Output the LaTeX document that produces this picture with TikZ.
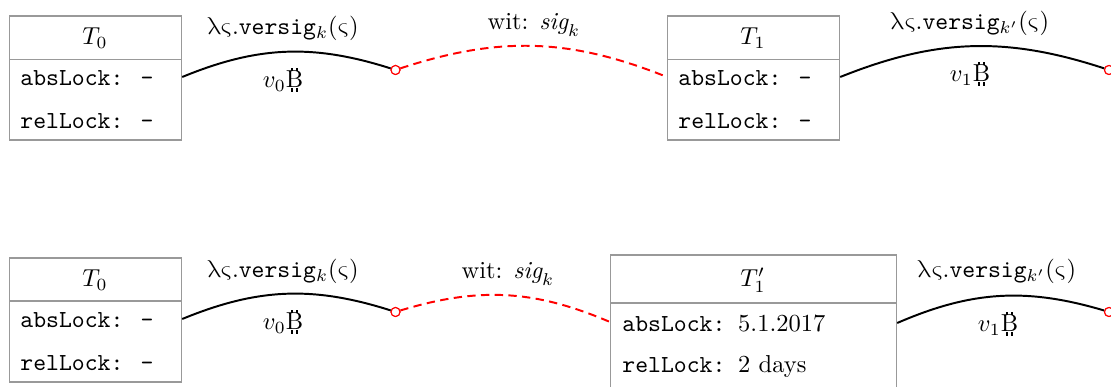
\documentclass[tikz,border=0pt]{standalone}
\usepackage{fontspec}
\newfontfamily\grk{latinmodern-math.otf}
\newcommand\pxu{0.4082pt}
\newcommand\btc{\makebox[0pt][l]{B}\makebox[0.708em][l]{\kern0.22em\rule[-0.15em]{0.06em}{0.15em}\kern-0.06em\rule[0.683em]{0.06em}{0.15em}\kern0.15em\rule[-0.15em]{0.06em}{0.15em}\kern-0.06em\rule[0.683em]{0.06em}{0.15em}}}
\newcommand\lsv{{\grk λς}.\texttt{versig}}
\newcommand\vsig{{\grk ς}}
\tikzset{
  boxframe/.style={draw=black!40, line width=0.5pt, inner sep=0pt, anchor=north west},
  hdrtext/.style={inner sep=0pt, anchor=center},
  rowtext/.style={inner sep=0pt, anchor=base west},
  lbl/.style={inner sep=0pt, anchor=base},
  divider/.style={draw=black!40, line width=0.5pt},
  conn/.style={thick, black},
  witconn/.style={thick, red, dash pattern=on 3.4pt off 2.2pt},
  port/.style={circle, draw=red, fill=white, inner sep=0pt, minimum size=9*\pxu, line width=0.45pt}
}
\begin{document}
\begin{tikzpicture}[x=0.4082pt, y=-0.4082pt]
\useasboundingbox (0,0) rectangle (1111,387);
\clip (0,0) rectangle (1111,387);
% ---------------- top row ----------------
\node[boxframe, minimum width=172*\pxu, minimum height=124*\pxu] (ta0) at (9,15.5) {};
\coordinate (ta0d) at (9,59.5);
\draw[divider] (ta0.west |- ta0d) -- (ta0.east |- ta0d);
\node[hdrtext] (ta0h) at (95,38) {$T_0$};
\node[rowtext] (ta0a) at (20,86) {\texttt{absLock: -}};
\node[rowtext] (ta0r) at (20,129) {\texttt{relLock: -}};

\node[boxframe, minimum width=172*\pxu, minimum height=124*\pxu] (ta1) at (667,15.5) {};
\coordinate (ta1d) at (667,59.5);
\draw[divider] (ta1.west |- ta1d) -- (ta1.east |- ta1d);
\node[hdrtext] (ta1h) at (753,38) {$T_1$};
\node[rowtext] (ta1a) at (678,86) {\texttt{absLock: -}};
\node[rowtext] (ta1r) at (678,129) {\texttt{relLock: -}};

\node[port] (pa0) at (395.5,70) {};
\node[port] (pa1) at (1109,70) {};

\draw[conn] (ta0.east |- 0,77) to[bend left=20] (pa0);
\draw[witconn] (pa0) to[bend left=20] (ta1.west |- 0,77);
\draw[conn] (ta1.east |- 0,77) to[bend left=20] (pa1);
\node[port] at (pa0) {};
\node[port] at (pa1) {};

\node[lbl] (la0) at (283,35) {\lsv$_k($\vsig$)$};
\node[lbl] (va0) at (283,88) {$v_0$\btc};
\node[lbl] (wa0) at (534,30) {wit: $\mathit{sig}_k$};
\node[lbl] (la1) at (970,30) {\lsv$_{k'}($\vsig$)$};
\node[lbl] (va1) at (970,82) {$v_1$\btc};

% ---------------- bottom row ----------------
\node[boxframe, minimum width=172*\pxu, minimum height=124*\pxu] (tb0) at (9,257.5) {};
\coordinate (tb0d) at (9,301);
\draw[divider] (tb0.west |- tb0d) -- (tb0.east |- tb0d);
\node[hdrtext] (tb0h) at (95,280) {$T_0$};
\node[rowtext] (tb0a) at (20,328) {\texttt{absLock: -}};
\node[rowtext] (tb0r) at (20,371) {\texttt{relLock: -}};

\node[boxframe, minimum width=286*\pxu, minimum height=150*\pxu] (tb1) at (610,254.5) {};
\coordinate (tb1d) at (610,303);
\draw[divider] (tb1.west |- tb1d) -- (tb1.east |- tb1d);
\node[hdrtext] (tb1h) at (753,280) {$T_1'$};
\node[rowtext] (tb1a) at (622,332) {\texttt{absLock:\ }5.1.2017};
\node[rowtext] (tb1r) at (622,373) {\texttt{relLock:\ }2 days};

\node[port] (pb0) at (395.5,312) {};
\node[port] (pb1) at (1109,312) {};

\draw[conn] (tb0.east |- 0,319) to[bend left=20] (pb0);
\draw[witconn] (pb0) to[bend left=20] (tb1.west |- 0,322);
\draw[conn] (tb1.east |- 0,323) to[bend left=20] (pb1);
\node[port] at (pb0) {};
\node[port] at (pb1) {};

\node[lbl] (lb0) at (283,278) {\lsv$_k($\vsig$)$};
\node[lbl] (vb0) at (283,330) {$v_0$\btc};
\node[lbl] (wb0) at (508,279) {wit: $\mathit{sig}_k$};
\node[lbl] (lb1) at (997,278) {\lsv$_{k'}($\vsig$)$};
\node[lbl] (vb1) at (998,332) {$v_1$\btc};
\end{tikzpicture}
\end{document}
